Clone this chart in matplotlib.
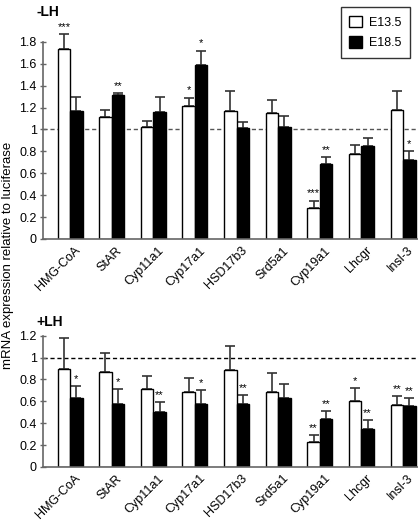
import matplotlib
matplotlib.use("Agg")
import matplotlib.pyplot as plt
import numpy as np
from matplotlib.patches import Patch

plt.rcParams['font.family'] = ['Liberation Sans', 'DejaVu Sans']

genes = ['HMG-CoA', 'StAR', 'Cyp11a1', 'Cyp17a1', 'HSD17b3',
         'Srd5a1', 'Cyp19a1', 'Lhcgr', 'Insl-3']

# -LH panel
minus_e135 = [1.73, 1.11, 1.02, 1.21, 1.17, 1.15, 0.28, 0.78, 1.18]
minus_e135_err = [0.14, 0.07, 0.06, 0.08, 0.18, 0.12, 0.07, 0.08, 0.17]
minus_e185 = [1.17, 1.31, 1.16, 1.59, 1.01, 1.02, 0.68, 0.85, 0.72]
minus_e185_err = [0.13, 0.02, 0.14, 0.13, 0.06, 0.10, 0.07, 0.07, 0.08]
minus_e135_sig = ['***', '', '', '*', '', '', '***', '', '']
minus_e185_sig = ['', '**', '', '*', '', '', '**', '', '*']

# +LH panel
plus_e135 = [0.90, 0.87, 0.71, 0.69, 0.89, 0.69, 0.23, 0.60, 0.57]
plus_e135_err = [0.28, 0.17, 0.12, 0.12, 0.22, 0.17, 0.06, 0.12, 0.08]
plus_e185 = [0.63, 0.58, 0.50, 0.58, 0.58, 0.63, 0.44, 0.35, 0.56]
plus_e185_err = [0.11, 0.13, 0.09, 0.12, 0.08, 0.13, 0.07, 0.08, 0.07]
plus_e135_sig = ['', '', '', '', '', '', '**', '*', '**']
plus_e185_sig = ['*', '*', '**', '*', '**', '', '**', '**', '**']

fig = plt.figure(figsize=(4.18, 5.24), dpi=100)
ax_top = fig.add_axes([0.103, 0.544, 0.897, 0.418])
ax_bot = fig.add_axes([0.103, 0.109, 0.897, 0.271])

x = np.arange(len(genes))
w = 0.3
axis_col = '#666666'


def draw_panel(ax, white, white_err, black, black_err, white_sig, black_sig,
               ymax, ytop, line_col):
    ax.bar(x - w / 2, white, w, color='white', edgecolor='black', linewidth=1.0, zorder=2)
    ax.bar(x + w / 2, black, w, color='black', edgecolor='black', linewidth=1.0, zorder=2)
    # only upper error bars
    ax.errorbar(x - w / 2, white, yerr=[np.zeros(len(x)), white_err], fmt='none',
                ecolor='#333333', elinewidth=1.2, capsize=3.5, capthick=1.2, zorder=1)
    ax.errorbar(x + w / 2, black, yerr=[np.zeros(len(x)), black_err], fmt='none',
                ecolor='#333333', elinewidth=1.2, capsize=3.5, capthick=1.2, zorder=1)
    for i in range(len(x)):
        if white_sig[i]:
            ax.text(x[i] - w / 2, white[i] + white_err[i] + 0.02, white_sig[i],
                    ha='center', va='bottom', fontsize=8)
        if black_sig[i]:
            ax.text(x[i] + w / 2, black[i] + black_err[i] + 0.02, black_sig[i],
                    ha='center', va='bottom', fontsize=8)
    ax.axhline(1, color=line_col, linestyle=(0, (3, 2)), linewidth=1.0, zorder=0)
    ax.set_xlim(-0.65, 8.36)
    ax.set_ylim(0, ytop)
    ticks = np.round(np.arange(0, ymax + 0.01, 0.2), 1)
    ax.set_yticks(ticks)
    ax.set_yticklabels(['%g' % t for t in ticks], fontsize=9)
    ax.set_xticks(x + 0.1)
    ax.set_xticklabels(genes, rotation=45, ha='right', rotation_mode='anchor', fontsize=9)
    ax.tick_params(axis='x', length=0, pad=4)
    ax.tick_params(axis='y', direction='inout', length=5, width=1, color=axis_col, pad=2)
    ax.spines['top'].set_visible(False)
    ax.spines['right'].set_visible(False)
    ax.spines['left'].set_bounds(0, ymax)
    for s in ['left', 'bottom']:
        ax.spines[s].set_color(axis_col)
        ax.spines[s].set_linewidth(1.2)


draw_panel(ax_top, minus_e135, minus_e135_err, minus_e185, minus_e185_err,
           minus_e135_sig, minus_e185_sig, 1.8, 2.0, '#555555')
draw_panel(ax_bot, plus_e135, plus_e135_err, plus_e185, plus_e185_err,
           plus_e135_sig, plus_e185_sig, 1.2, 1.3, 'black')

fig.text(0.088, 0.977, '-LH', fontsize=10, fontweight='bold', va='center')
fig.text(0.086, 0.385, '+LH', fontsize=10, fontweight='bold', va='center')
fig.text(0.020, 0.513, 'mRNA expression relative to luciferase', rotation=90,
         fontsize=9.5, ha='center', va='center')

handles = [Patch(facecolor='white', edgecolor='black', label='E13.5'),
           Patch(facecolor='black', edgecolor='black', label='E18.5')]
leg = fig.legend(handles=handles, loc='upper right', bbox_to_anchor=(0.997, 0.998),
                 fontsize=9, frameon=True, fancybox=False, edgecolor='black',
                 handlelength=1.0, handleheight=1.0, borderpad=0.7, labelspacing=0.6,
                 handletextpad=0.6)
leg.get_frame().set_linewidth(1.0)

fig.savefig('out.png', dpi=100)
